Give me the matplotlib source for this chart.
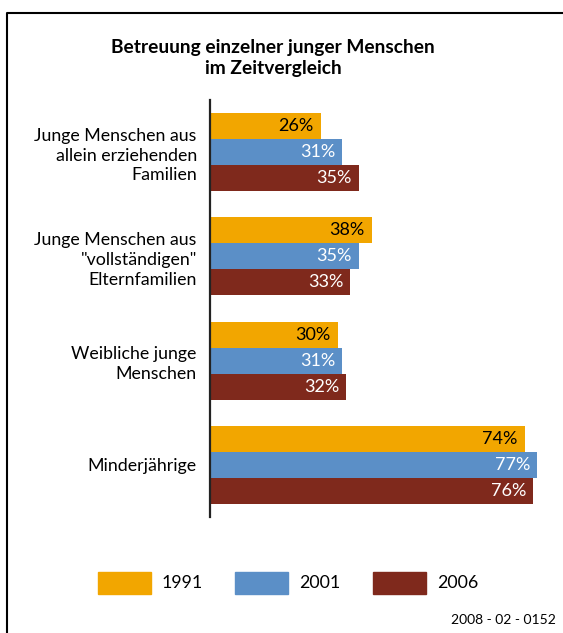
import matplotlib.pyplot as plt
import numpy as np
from matplotlib.patches import Rectangle
from matplotlib.lines import Line2D

plt.rcParams['font.family'] = ['Lato', 'DejaVu Sans']

categories = ['Junge Menschen aus\nallein erziehenden\nFamilien',
              'Junge Menschen aus\n"vollständigen"\nElternfamilien',
              'Weibliche junge\nMenschen',
              'Minderjährige']
years = ['1991', '2001', '2006']
v1991 = [26, 38, 30, 74]
v2001 = [31, 35, 31, 77]
v2006 = [35, 33, 32, 76]
colors = ['#F2A600', '#5B8FC7', '#7F291C']
text_colors = ['black', 'white', 'white']

W, H = 563, 633
fig = plt.figure(figsize=(W / 100, H / 100), dpi=100)
ax = fig.add_axes([210 / W, (H - 517) / H, 343 / W, 417 / H])

pos = np.arange(len(categories))
h = 0.25
for i, (vals, col, tc) in enumerate(zip([v1991, v2001, v2006], colors, text_colors)):
    y = pos - h + i * h
    ax.barh(y, vals, height=h, color=col)
    for yy, v in zip(y, vals):
        ax.text(v - 1.6, yy, f'{v}%', ha='right', va='center', color=tc, fontsize=13)

ax.set_ylim(3.5, -0.5)
ax.set_xlim(0, 343 / 4.25)
ax.set_yticks(pos)
ax.set_yticklabels(categories, fontsize=12.8, linespacing=1.3, ha='right')
ax.tick_params(axis='y', length=0, pad=9.5)
ax.set_xticks([])
for s in ['top', 'right', 'bottom']:
    ax.spines[s].set_visible(False)
ax.spines['left'].set_linewidth(1.6)
ax.spines['left'].set_color('#222222')

fig.text(273 / W, 1 - 58 / H, 'Betreuung einzelner junger Menschen\nim Zeitvergleich',
         ha='center', va='center', fontsize=13.8, fontweight='bold', linespacing=1.25)

# legend
lx = [98, 235, 373]
for x, yr, col in zip(lx, years, colors):
    fig.patches.append(Rectangle((x / W, 1 - 594 / H), 53 / W, 22 / H,
                                 transform=fig.transFigure, color=col))
    fig.text((x + 64) / W, 1 - 583 / H, yr, ha='left', va='center', fontsize=12.8)

fig.text(556 / W, 1 - 620 / H, '2008 - 02 - 0152', ha='right', va='center', fontsize=10)

# frame
fig.lines.append(Line2D([7 / W, 7 / W, 1.0], [0, 1 - 13 / H, 1 - 13 / H],
                        transform=fig.transFigure, color='black', lw=1.5))

fig.savefig('out.png', dpi=100)
